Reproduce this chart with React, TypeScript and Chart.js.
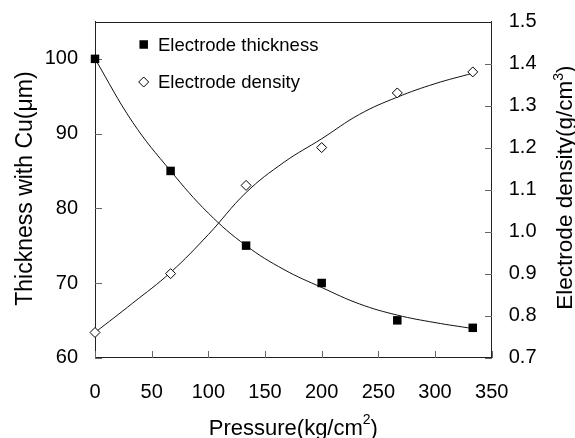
import { useEffect, useRef } from 'react';
import { Chart, registerables } from 'chart.js';

Chart.register(...registerables);

// Measured data (markers)
const pressure = [0, 66.7, 133.3, 200, 266.7, 333.3];
const thickness = [100, 85, 75, 70, 65, 64];
const density = [0.76, 0.9, 1.11, 1.2, 1.33, 1.38];

// Fitted curves
const fitPressure = [0, 33.3, 66.7, 100, 133.3, 166.7, 200, 233.3, 266.7, 300, 333.3];
const thicknessFit = [100, 91.5, 85.0, 79.35, 75.0, 71.8, 69.4, 67.2, 65.7, 64.7, 63.9];
const densityFit = [0.76, 0.83, 0.903, 0.993, 1.093, 1.165, 1.221, 1.279, 1.32, 1.352, 1.377];

// Tick labels
const xTicks = [0, 50, 100, 150, 200, 250, 300, 350];
const leftTicks = [60, 70, 80, 90, 100];
const rightTicks = [0.7, 0.8, 0.9, 1.0, 1.1, 1.2, 1.3, 1.4, 1.5];

const FONT = '"Liberation Sans", Arial, Helvetica, sans-serif';

type Seg = { t: string; sup?: boolean };

function drawSegs(ctx: CanvasRenderingContext2D, segs: Seg[], cx: number, baseY: number, size: number, supSize: number, rise: number) {
  let total = 0;
  for (const s of segs) {
    ctx.font = `${s.sup ? supSize : size}px ${FONT}`;
    total += ctx.measureText(s.t).width;
  }
  let x = cx - total / 2;
  ctx.textAlign = 'left';
  ctx.textBaseline = 'alphabetic';
  for (const s of segs) {
    ctx.font = `${s.sup ? supSize : size}px ${FONT}`;
    ctx.fillText(s.t, x, baseY - (s.sup ? rise : 0));
    x += ctx.measureText(s.t).width;
  }
}

const TICK_LEN = 7;

const decorPlugin = {
  id: 'decor',
  beforeDatasetsDraw(chart: any) {
    const { ctx, chartArea, scales } = chart;
    ctx.save();
    ctx.lineWidth = 1;
    // inward tick marks
    ctx.strokeStyle = '#666';
    ctx.beginPath();
    const bottom = Math.round(chartArea.bottom);
    const left = Math.round(chartArea.left);
    const right = Math.round(chartArea.right);
    for (const v of xTicks) {
      const px = Math.round(scales.x.getPixelForValue(v)) + 0.5;
      ctx.moveTo(px, bottom);
      ctx.lineTo(px, bottom - TICK_LEN);
    }
    for (const v of leftTicks) {
      const py = Math.round(scales.y.getPixelForValue(v)) + 0.5;
      ctx.moveTo(left, py);
      ctx.lineTo(left + TICK_LEN, py);
    }
    for (const v of rightTicks) {
      const py = Math.round(scales.y1.getPixelForValue(v)) + 0.5;
      ctx.moveTo(right, py);
      ctx.lineTo(right - TICK_LEN, py);
    }
    ctx.stroke();
    // top frame line
    ctx.strokeStyle = '#222';
    ctx.beginPath();
    ctx.moveTo(chartArea.left, Math.round(chartArea.top) + 0.5);
    ctx.lineTo(chartArea.right, Math.round(chartArea.top) + 0.5);
    ctx.stroke();
    ctx.restore();
  },
  afterDraw(chart: any) {
    const { ctx, chartArea } = chart;
    ctx.save();
    ctx.fillStyle = '#000';
    const cx = (chartArea.left + chartArea.right) / 2;
    const cy = (chartArea.top + chartArea.bottom) / 2;
    // x title
    drawSegs(ctx, [{ t: 'Pressure(kg/cm' }, { t: '2', sup: true }, { t: ')' }], cx, 434.5, 22, 14, 11);
    // left title
    ctx.save();
    ctx.translate(31.5, cy - 1);
    ctx.rotate(-Math.PI / 2);
    drawSegs(ctx, [{ t: 'Thickness with Cu(μm)' }], 0, 0, 23, 14, 9);
    ctx.restore();
    // right title
    ctx.save();
    ctx.translate(571.5, cy - 2);
    ctx.rotate(-Math.PI / 2);
    drawSegs(ctx, [{ t: 'Electrode density(g/cm' }, { t: '3', sup: true }, { t: ')' }], 0, 0, 22.5, 14, 9);
    ctx.restore();

    // legend
    const mx = 143.7;
    ctx.fillStyle = '#000';
    ctx.fillRect(mx - 4.25, 44.5 - 4.25, 8.5, 8.5);
    ctx.beginPath();
    ctx.moveTo(mx, 82 - 5);
    ctx.lineTo(mx + 5, 82);
    ctx.lineTo(mx, 82 + 5);
    ctx.lineTo(mx - 5, 82);
    ctx.closePath();
    ctx.fillStyle = '#fff';
    ctx.fill();
    ctx.strokeStyle = '#000';
    ctx.lineWidth = 1;
    ctx.stroke();
    ctx.fillStyle = '#000';
    ctx.font = `18.5px ${FONT}`;
    ctx.textAlign = 'left';
    ctx.textBaseline = 'alphabetic';
    ctx.fillText('Electrode thickness', 158, 50.8);
    ctx.fillText('Electrode density', 158, 88.3);
    ctx.restore();
  },
};

export default function App() {
  const ref = useRef<HTMLCanvasElement>(null);
  useEffect(() => {
    if (!ref.current) return;
    const tickFont = { family: FONT, size: 20 };
    const grid = { display: false, drawOnChartArea: false, drawTicks: false, tickLength: 0 };
    const chart = new Chart(ref.current, {
      type: 'scatter',
      data: {
        datasets: [
          {
            label: 'Electrode thickness',
            data: pressure.map((x, i) => ({ x, y: thickness[i] })),
            yAxisID: 'y',
            pointStyle: 'rect',
            pointRadius: 6,
            backgroundColor: '#000',
            borderColor: '#000',
            borderWidth: 0,
            showLine: false,
            clip: false,
          } as any,
          {
            label: 'Electrode density',
            data: pressure.map((x, i) => ({ x, y: density[i] })),
            yAxisID: 'y1',
            pointStyle: 'rectRot',
            pointRadius: 5,
            backgroundColor: '#fff',
            borderColor: '#000',
            borderWidth: 1,
            showLine: false,
            clip: false,
          } as any,
          {
            label: 'thickness fit',
            data: fitPressure.map((x, i) => ({ x, y: thicknessFit[i] })),
            yAxisID: 'y',
            showLine: true,
            pointRadius: 0,
            borderColor: '#111',
            borderWidth: 1,
            tension: 0.4,
          } as any,
          {
            label: 'density fit',
            data: fitPressure.map((x, i) => ({ x, y: densityFit[i] })),
            yAxisID: 'y1',
            showLine: true,
            pointRadius: 0,
            borderColor: '#111',
            borderWidth: 1,
            tension: 0.4,
          } as any,
        ],
      },
      options: {
        responsive: false,
        animation: false,
        layout: { padding: { top: 21.5, left: 0, right: 0, bottom: 0 } },
        plugins: { legend: { display: false }, tooltip: { enabled: false } },
        scales: {
          x: {
            type: 'linear',
            position: 'bottom',
            min: 0,
            max: 350,
            afterBuildTicks: (s: any) => { s.ticks = xTicks.map((v) => ({ value: v })); },
            afterFit: (s: any) => { s.height = 80.3; s.paddingLeft = 0; s.paddingRight = 0; },
            grid,
            border: { color: '#222', width: 1 },
            ticks: { font: tickFont, color: '#000', padding: 23, maxRotation: 0, autoSkip: false, callback: (v: any) => String(v) },
          },
          y: {
            type: 'linear',
            position: 'left',
            min: 60,
            max: 105,
            afterBuildTicks: (s: any) => { s.ticks = leftTicks.map((v) => ({ value: v })); },
            afterFit: (s: any) => { s.width = 95; s.paddingTop = 0; s.paddingBottom = 0; },
            grid,
            border: { color: '#222', width: 1 },
            ticks: { font: tickFont, color: '#000', padding: 17, callback: (v: any) => String(v) },
          },
          y1: {
            type: 'linear',
            position: 'right',
            min: 0.7,
            max: 1.5,
            afterBuildTicks: (s: any) => { s.ticks = rightTicks.map((v) => ({ value: v })); },
            afterFit: (s: any) => { s.width = 83.3; s.paddingTop = 0; s.paddingBottom = 0; },
            grid,
            border: { color: '#222', width: 1 },
            ticks: { font: tickFont, color: '#000', padding: 17, callback: (v: any) => Number(v).toFixed(1) },
          },
        },
      } as any,
      plugins: [decorPlugin],
    });
    return () => chart.destroy();
  }, []);
  return (
    <div style={{ position: 'fixed', left: 0, top: 0, width: 575, height: 438 }}>
      <canvas ref={ref} width={575} height={438} style={{ display: 'block' }} />
    </div>
  );
}
